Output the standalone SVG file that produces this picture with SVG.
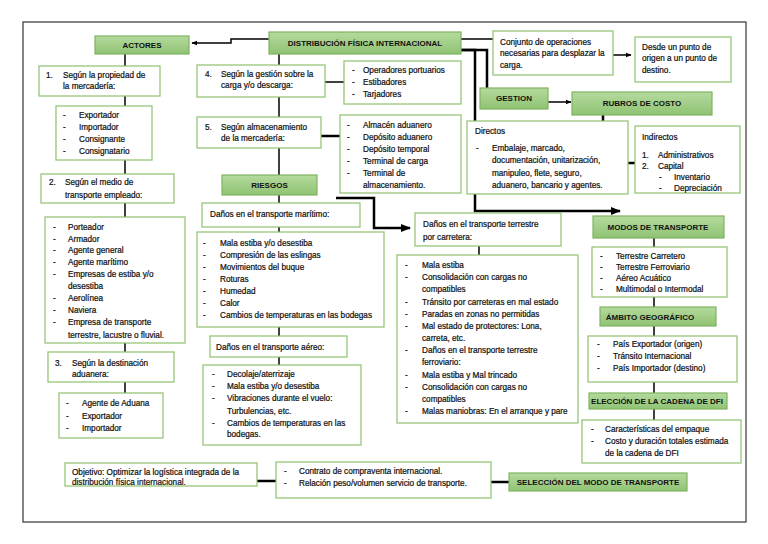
<svg xmlns="http://www.w3.org/2000/svg" width="768" height="544" viewBox="0 0 768 544">
<defs>
<linearGradient id="g" x1="0" y1="0" x2="0" y2="1"><stop offset="0" stop-color="#b5da9e"/><stop offset="1" stop-color="#8fc373"/></linearGradient>
<marker id="ah" viewBox="0 0 10 10" refX="9" refY="5" markerWidth="4" markerHeight="4" orient="auto"><path d="M0,1 L10,5 L0,9 z" fill="#000"/></marker>
</defs>
<style>
.h{fill:url(#g);stroke:#7fb35f;stroke-width:1.2}
.b{fill:#fff;stroke:#8fc06e;stroke-width:1.2}
.t{font-family:"Liberation Sans",Arial,sans-serif;font-size:8.2px;fill:#111;stroke:#111;stroke-width:0.22px}
.ht{font-family:"Liberation Sans",Arial,sans-serif;font-size:8px;font-weight:bold;fill:#111;text-anchor:middle}
.c{fill:none;stroke:#000;stroke-width:1.5}
.k{fill:none;stroke:#000;stroke-width:2.5}
</style>
<rect x="23" y="22" width="723" height="500" fill="#fff" stroke="#333" stroke-width="1.2"/>
<g id="connectors">
<polyline class="c" points="269,39 231,39 231,43 192,43" marker-end="url(#ah)"/>
<line class="c" x1="125" y1="54" x2="125" y2="393"/>
<line class="c" x1="279" y1="54" x2="279" y2="365"/>
<line class="c" x1="325" y1="82" x2="344" y2="82"/>
<line class="k" x1="321" y1="136" x2="340" y2="136"/>
<polyline class="k" points="336,198 374,198 374,228 410,228" marker-end="url(#ah)"/>
<line class="c" x1="461" y1="39" x2="493" y2="39"/>
<polyline class="k" points="461,50 487,50 487,88"/>
<polyline class="k" points="461,50 475,50 475,211 620,211" marker-end="url(#ah)"/>
<line class="c" x1="613" y1="55" x2="631" y2="55" marker-end="url(#ah)"/>
<line class="c" x1="548" y1="102" x2="571" y2="102" marker-end="url(#ah)"/>
<line class="k" x1="603" y1="115" x2="603" y2="121"/>
<line class="k" x1="628" y1="163" x2="635" y2="163"/>
<line class="c" x1="479" y1="246" x2="479" y2="255"/>
<line class="c" x1="654" y1="238" x2="654" y2="420"/>
<line class="k" x1="257" y1="481" x2="276" y2="481"/>
<line class="k" x1="491" y1="482" x2="509" y2="482"/>
</g>
<g id="dfi"><rect class="h" x="269" y="32" width="192" height="22"/><text class="ht" x="365" y="46">DISTRIBUCIÓN FÍSICA INTERNACIONAL</text></g>
<g id="actores"><rect class="h" x="95" y="36" width="94" height="18"/><text class="ht" x="142" y="48">ACTORES</text></g>
<g id="n1"><rect class="b" x="39" y="66" width="121" height="30"/><text class="t" x="46" y="78">1.</text><text class="t" x="63" y="78">Según la propiedad de</text><text class="t" x="63" y="89">la mercadería:</text></g>
<g id="l1"><rect class="b" x="56" y="106" width="96" height="54"/>
<text class="t" x="63" y="118">-</text><text class="t" x="79" y="118">Exportador</text>
<text class="t" x="63" y="130">-</text><text class="t" x="79" y="130">Importador</text>
<text class="t" x="63" y="142">-</text><text class="t" x="79" y="142">Consignante</text>
<text class="t" x="63" y="154">-</text><text class="t" x="79" y="154">Consignatario</text></g>
<g id="n2"><rect class="b" x="41" y="174" width="133" height="29"/><text class="t" x="49" y="185">2.</text><text class="t" x="65" y="185">Según el medio de</text><text class="t" x="65" y="198">transporte empleado:</text></g>
<g id="l2"><rect class="b" x="45" y="217" width="140" height="126"/>
<text class="t" x="53" y="230">-</text><text class="t" x="68" y="230">Porteador</text>
<text class="t" x="53" y="242">-</text><text class="t" x="68" y="242">Armador</text>
<text class="t" x="53" y="253">-</text><text class="t" x="68" y="253">Agente general</text>
<text class="t" x="53" y="265">-</text><text class="t" x="68" y="265">Agente marítimo</text>
<text class="t" x="53" y="277">-</text><text class="t" x="68" y="277">Empresas de estiba y/o</text>
<text class="t" x="68" y="289">desestiba</text>
<text class="t" x="53" y="301">-</text><text class="t" x="68" y="301">Aerolínea</text>
<text class="t" x="53" y="313">-</text><text class="t" x="68" y="313">Naviera</text>
<text class="t" x="53" y="325">-</text><text class="t" x="68" y="325">Empresa de transporte</text>
<text class="t" x="68" y="338">terrestre, lacustre o fluvial.</text></g>
<g id="n3"><rect class="b" x="48" y="352" width="126" height="30"/><text class="t" x="55" y="366">3.</text><text class="t" x="72" y="366">Según la destinación</text><text class="t" x="72" y="377">aduanera:</text></g>
<g id="l3"><rect class="b" x="59" y="393" width="104" height="45"/>
<text class="t" x="66" y="406">-</text><text class="t" x="82" y="406">Agente de Aduana</text>
<text class="t" x="66" y="419">-</text><text class="t" x="82" y="419">Exportador</text>
<text class="t" x="66" y="431">-</text><text class="t" x="82" y="431">Importador</text></g>
<g id="objetivo"><rect class="b" x="65" y="463" width="192" height="23"/><text class="t" x="72" y="475">Objetivo: Optimizar la logística integrada de la</text><text class="t" x="72" y="484.5">distribución física internacional.</text></g>
<g id="contrato"><rect class="b" x="276" y="462" width="215" height="36"/>
<text class="t" x="284" y="474">-</text><text class="t" x="299" y="474">Contrato de compraventa internacional.</text>
<text class="t" x="284" y="486">-</text><text class="t" x="299" y="486">Relación peso/volumen servicio de transporte.</text></g>
<g id="seleccion"><rect class="h" x="509" y="473" width="178" height="18"/><text class="ht" x="598" y="485">SELECCIÓN DEL MODO DE TRANSPORTE</text></g>
<g id="n4"><rect class="b" x="197" y="65" width="128" height="32"/><text class="t" x="205" y="77">4.</text><text class="t" x="221" y="77">Según la gestión sobre la</text><text class="t" x="221" y="88">carga y/o descarga:</text></g>
<g id="l4"><rect class="b" x="344" y="61" width="117" height="43"/>
<text class="t" x="352" y="73">-</text><text class="t" x="363" y="73">Operadores portuarios</text>
<text class="t" x="352" y="85">-</text><text class="t" x="363" y="85">Estibadores</text>
<text class="t" x="352" y="97">-</text><text class="t" x="363" y="97">Tarjadores</text></g>
<g id="n5"><rect class="b" x="197" y="117" width="124" height="31"/><text class="t" x="205" y="130">5.</text><text class="t" x="221" y="130">Según almacenamiento</text><text class="t" x="221" y="141">de la mercadería:</text></g>
<g id="l5"><rect class="b" x="340" y="115" width="121" height="78"/>
<text class="t" x="347" y="128">-</text><text class="t" x="363" y="128">Almacén aduanero</text>
<text class="t" x="347" y="140">-</text><text class="t" x="363" y="140">Depósito aduanero</text>
<text class="t" x="347" y="152">-</text><text class="t" x="363" y="152">Depósito temporal</text>
<text class="t" x="347" y="164">-</text><text class="t" x="363" y="164">Terminal de carga</text>
<text class="t" x="347" y="176">-</text><text class="t" x="363" y="176">Terminal de</text>
<text class="t" x="363" y="188">almacenamiento.</text></g>
<g id="riesgos"><rect class="h" x="222" y="175" width="95" height="20"/><text class="ht" x="269.5" y="188">RIESGOS</text></g>
<g id="maritimo"><rect class="b" x="202" y="203" width="158" height="24"/><text class="t" x="210" y="217">Daños en el transporte marítimo:</text></g>
<g id="lmaritimo"><rect class="b" x="197" y="232" width="187" height="95"/>
<text class="t" x="203" y="246">-</text><text class="t" x="220" y="246">Mala estiba y/o desestiba</text>
<text class="t" x="203" y="258">-</text><text class="t" x="220" y="258">Compresión de las eslingas</text>
<text class="t" x="203" y="270">-</text><text class="t" x="220" y="270">Movimientos del buque</text>
<text class="t" x="203" y="282">-</text><text class="t" x="220" y="282">Roturas</text>
<text class="t" x="203" y="294">-</text><text class="t" x="220" y="294">Humedad</text>
<text class="t" x="203" y="306">-</text><text class="t" x="220" y="306">Calor</text>
<text class="t" x="203" y="318">-</text><text class="t" x="220" y="318">Cambios de temperaturas en las bodegas</text></g>
<g id="aereo"><rect class="b" x="210" y="336" width="137" height="21"/><text class="t" x="216" y="350">Daños en el transporte aéreo:</text></g>
<g id="laereo"><rect class="b" x="203" y="365" width="158" height="80"/>
<text class="t" x="212" y="377">-</text><text class="t" x="227" y="377">Decolaje/aterrizaje</text>
<text class="t" x="212" y="389">-</text><text class="t" x="227" y="389">Mala estiba y/o desestiba</text>
<text class="t" x="212" y="401">-</text><text class="t" x="227" y="401">Vibraciones durante el vuelo:</text>
<text class="t" x="227" y="414">Turbulencias, etc.</text>
<text class="t" x="212" y="426">-</text><text class="t" x="227" y="426">Cambios de temperaturas en las</text>
<text class="t" x="227" y="437">bodegas.</text></g>
<g id="terrestre"><rect class="b" x="415" y="213" width="146" height="33"/><text class="t" x="423" y="227">Daños en el transporte terrestre</text><text class="t" x="423" y="240">por carretera:</text></g>
<g id="lterrestre"><rect class="b" x="397" y="255" width="181" height="168"/>
<text class="t" x="405" y="268">-</text><text class="t" x="422" y="268">Mala estiba</text>
<text class="t" x="405" y="280">-</text><text class="t" x="422" y="280">Consolidación con cargas no</text>
<text class="t" x="422" y="292">compatibles</text>
<text class="t" x="405" y="305">-</text><text class="t" x="422" y="305">Tránsito por carreteras en mal estado</text>
<text class="t" x="405" y="317">-</text><text class="t" x="422" y="317">Paradas en zonas no permitidas</text>
<text class="t" x="405" y="329">-</text><text class="t" x="422" y="329">Mal estado de protectores: Lona,</text>
<text class="t" x="422" y="341">carreta, etc.</text>
<text class="t" x="405" y="353">-</text><text class="t" x="422" y="353">Daños en el transporte terrestre</text>
<text class="t" x="422" y="365">ferroviario:</text>
<text class="t" x="405" y="378">-</text><text class="t" x="422" y="378">Mala estiba y Mal trincado</text>
<text class="t" x="405" y="390">-</text><text class="t" x="422" y="390">Consolidación con cargas no</text>
<text class="t" x="422" y="402">compatibles</text>
<text class="t" x="405" y="414">-</text><text class="t" x="422" y="414">Malas maniobras: En el arranque y pare</text></g>
<g id="conjunto"><rect class="b" x="493" y="31" width="120" height="44"/><text class="t" x="500" y="45">Conjunto de operaciones</text><text class="t" x="500" y="56">necesarias para desplazar la</text><text class="t" x="500" y="68">carga.</text></g>
<g id="desde"><rect class="b" x="635" y="37" width="96" height="45"/><text class="t" x="642" y="50">Desde un punto de</text><text class="t" x="642" y="61">origen a un punto de</text><text class="t" x="642" y="73">destino.</text></g>
<g id="gestion"><rect class="h" x="480" y="88" width="68" height="21"/><text class="ht" x="514" y="101">GESTION</text></g>
<g id="rubros"><rect class="h" x="572" y="92" width="140" height="23"/><text class="ht" x="642" y="106">RUBROS DE COSTO</text></g>
<g id="directos"><rect class="b" x="467" y="121" width="161" height="73"/>
<text class="t" x="475" y="134">Directos</text>
<text class="t" x="476" y="151">-</text><text class="t" x="492" y="151">Embalaje, marcado,</text>
<text class="t" x="492" y="163">documentación, unitarización,</text>
<text class="t" x="492" y="176">manipuleo, flete, seguro,</text>
<text class="t" x="492" y="188">aduanero, bancario y agentes.</text></g>
<g id="indirectos"><rect class="b" x="635" y="126" width="105" height="67"/>
<text class="t" x="642" y="140">Indirectos</text>
<text class="t" x="642" y="158">1.</text><text class="t" x="658" y="158">Administrativos</text>
<text class="t" x="642" y="169">2.</text><text class="t" x="658" y="169">Capital</text>
<text class="t" x="659" y="180">-</text><text class="t" x="674" y="180">Inventario</text>
<text class="t" x="659" y="191">-</text><text class="t" x="674" y="191">Depreciación</text></g>
<g id="modos"><rect class="h" x="593" y="216" width="131" height="22"/><text class="ht" x="658" y="230">MODOS DE TRANSPORTE</text></g>
<g id="lmodos"><rect class="b" x="592" y="247" width="135" height="50"/>
<text class="t" x="600" y="259">-</text><text class="t" x="616" y="259">Terrestre Carretero</text>
<text class="t" x="600" y="270">-</text><text class="t" x="616" y="270">Terrestre Ferroviario</text>
<text class="t" x="600" y="281">-</text><text class="t" x="616" y="281">Aéreo Acuático</text>
<text class="t" x="600" y="292">-</text><text class="t" x="616" y="292">Multimodal o Intermodal</text></g>
<g id="ambito"><rect class="h" x="600" y="307" width="116" height="19"/><text class="ht" x="650" y="320">ÁMBITO GEOGRÁFICO</text></g>
<g id="lambito"><rect class="b" x="588" y="336" width="149" height="46"/>
<text class="t" x="597" y="347">-</text><text class="t" x="613" y="347">País Exportador (origen)</text>
<text class="t" x="597" y="359">-</text><text class="t" x="613" y="359">Tránsito Internacional</text>
<text class="t" x="597" y="371">-</text><text class="t" x="613" y="371">País Importador (destino)</text></g>
<g id="eleccion"><rect class="h" x="589" y="393" width="138" height="16"/><text class="ht" x="657" y="404">ELECCIÓN DE LA CADENA DE DFI</text></g>
<g id="lcadena"><rect class="b" x="582" y="420" width="159" height="43"/>
<text class="t" x="591" y="432">-</text><text class="t" x="605" y="432">Características del empaque</text>
<text class="t" x="591" y="444">-</text><text class="t" x="605" y="444">Costo y duración totales estimada</text>
<text class="t" x="605" y="456">de la cadena de DFI</text></g>
</svg>
